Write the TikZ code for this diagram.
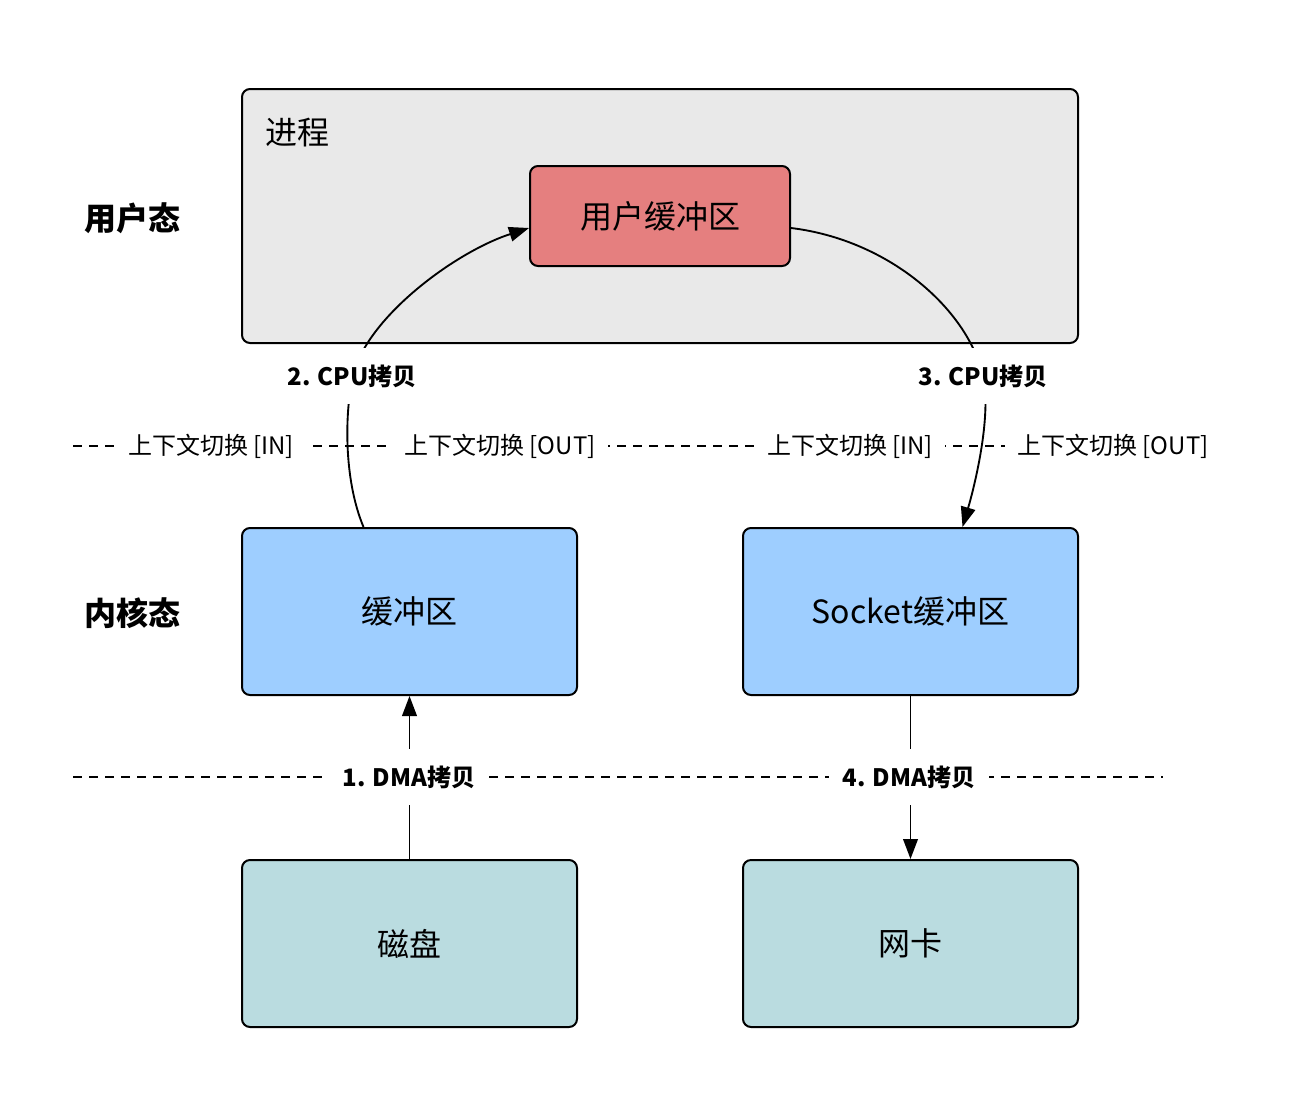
\documentclass[tikz,border=0pt]{standalone}
\usepackage{fontspec}
\setmainfont{Noto Sans CJK SC}
\usetikzlibrary{arrows.meta,calc}
\definecolor{procgray}{RGB}{233,233,233}
\definecolor{userred}{RGB}{229,127,127}
\definecolor{kernblue}{RGB}{158,206,255}
\definecolor{devteal}{RGB}{186,220,224}
\tikzset{
  box/.style={draw=black, line width=1.5pt, rounded corners=6pt, inner sep=0pt, font=\fontsize{24}{28}\selectfont},
  biglabel/.style={inner sep=0pt, font=\fontsize{24}{28}\selectfont\bfseries},
  switchlabel/.style={fill=white, inner xsep=9pt, inner ysep=4pt, font=\fontsize{18}{22}\selectfont},
  copylabel/.style={fill=white, inner xsep=10pt, minimum height=42pt, font=\fontsize{18}{22}\selectfont\bfseries},
  sepline/.style={line width=1.5pt, dash pattern=on 6.75pt off 5.25pt},
  flow/.style={line width=1.4pt, -{Triangle[length=15pt,width=11pt]}}
}
\begin{document}
\begin{tikzpicture}[x=0.75pt,y=-0.75pt]
\useasboundingbox (0,0) rectangle (1294,1096);
% boxes
\node[box, fill=procgray, minimum width=627pt, minimum height=190.5pt] (proc) at (660,216) {};
\node[anchor=west, inner sep=0pt, font=\fontsize{24}{28}\selectfont] (proclbl) at (265,133) {进程};
\node[box, fill=userred, minimum width=195pt, minimum height=75pt] (ubuf) at (660,216) {\raisebox{-1.5pt}{用户缓冲区}};
\node[box, fill=kernblue, minimum width=251.25pt, minimum height=125.25pt] (kbuf) at (409.5,611.5) {\raisebox{-1pt}{缓冲区}};
\node[box, fill=kernblue, minimum width=251.25pt, minimum height=125.25pt] (sock) at (910.5,611.5) {\raisebox{-1pt}{Socket缓冲区}};
\node[box, fill=devteal, minimum width=251.25pt, minimum height=125.25pt] (disk) at (409.5,943.5) {\raisebox{-1pt}{磁盘}};
\node[box, fill=devteal, minimum width=251.25pt, minimum height=125.25pt] (nic) at (910.5,943.5) {\raisebox{-1pt}{网卡}};
% side labels
\node[biglabel] (ulbl) at (132,218) {用户态};
\node[biglabel] (klbl) at (132,613) {内核态};
% separator lines
\coordinate (s1a) at (73,446);
\coordinate (s1b) at (1163,446);
\coordinate (s2a) at (73,777);
\coordinate (s2b) at (1163,777);
\draw[sepline] (s1a) -- (s1b);
\draw[sepline] (s2a) -- (s2b);
\node[switchlabel] (sw1) at (211,446) {上下文切换 [IN]};
\node[switchlabel] (sw2) at (500,446) {上下文切换 [OUT]};
\node[switchlabel] (sw3) at (850,446) {上下文切换 [IN]};
\node[switchlabel] (sw4) at (1113,446) {上下文切换 [OUT]};
% label anchors for copies
\coordinate (c2) at (353,376);
\coordinate (c3) at (983,376);
% connectors
\draw[flow] (disk) -- (kbuf);
\draw[flow] (sock) -- (nic);
\draw[flow] ($(kbuf.north)+(-46,0)$) .. controls (343,478) and (345,410) .. (c2)
   .. controls (366,318) and (455,252) .. ($(ubuf.west)+(0,12)$);
\draw[flow] ($(ubuf.east)+(0,12)$) .. controls (890,240) and (968,310) .. (c3)
   .. controls (992,417) and (974,488) .. ($(sock.north)+(52,0)$);
% connector labels
\node[copylabel] (cpu2) at (352,376) {2. CPU拷贝};
\node[copylabel] (cpu3) at (983,376) {3. CPU拷贝};
\node[copylabel] (dma1) at (409,777) {1. DMA拷贝};
\node[copylabel] (dma4) at (909,777) {4. DMA拷贝};
\end{tikzpicture}
\end{document}
